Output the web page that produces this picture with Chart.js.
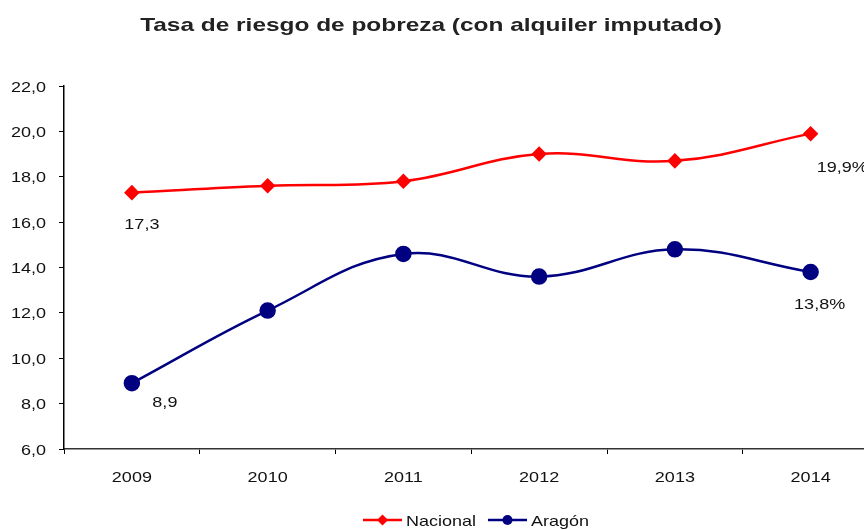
<!DOCTYPE html>
<html>
<head>
<meta charset="utf-8">
<script src="https://cdn.jsdelivr.net/npm/chart.js@4.4.1/dist/chart.umd.min.js"></script>
<style>
  html, body { margin: 0; padding: 0; background: #fff; overflow: hidden; }
  #wrap { width: 888px; height: 530px; }
</style>
</head>
<body>
<div id="wrap"><canvas id="chart" width="888" height="530"></canvas></div>
<script>
// data
const years = ['2009', '2010', '2011', '2012', '2013', '2014'];
const nacional = [17.3, 17.6, 17.8, 19.0, 18.7, 19.9];
const aragon = [8.9, 12.1, 14.6, 13.6, 14.8, 13.8];
const yTicks = [6, 8, 10, 12, 14, 16, 18, 20, 22];

const chartTitle = 'Tasa de riesgo de pobreza (con alquiler imputado)';
const FONT = '"Liberation Sans", Arial, sans-serif';
const RED = '#ff0000';
const NAVY = '#000080';
const TEXT = '#111';
const STRETCH = 1.2; // the reference text is drawn a bit wide

const fmt = v => v.toFixed(1).replace('.', ',');

// text drawn wider than normal, like the original picture
function wideText(ctx, text, x, y, align, sx) {
  ctx.save();
  ctx.translate(x, y);
  ctx.scale(sx, 1);
  ctx.textAlign = align;
  ctx.textBaseline = 'alphabetic';
  ctx.fillText(text, 0, 0);
  ctx.restore();
}

// title, axis labels, end-point labels and legend drawn on the canvas
const decorations = {
  id: 'decorations',
  afterDatasetsDraw(chart) {
    const ctx = chart.ctx;
    const xs = chart.scales.x;
    const ys = chart.scales.y;
    ctx.save();

    // title
    ctx.fillStyle = '#222';
    ctx.font = 'bold 18.5px ' + FONT;
    wideText(ctx, chartTitle, 431, 31, 'center', 1.32);

    ctx.font = '15px ' + FONT;
    ctx.fillStyle = TEXT;

    // y tick labels
    yTicks.forEach(v => {
      wideText(ctx, fmt(v), 46, ys.getPixelForValue(v) + 5.5, 'right', STRETCH);
    });

    // x tick labels
    years.forEach((y, i) => {
      wideText(ctx, y, xs.getPixelForValue(i), 482, 'center', STRETCH);
    });

    // first / last value labels
    const n = years.length - 1;
    const nac = chart.getDatasetMeta(0).data;
    const ara = chart.getDatasetMeta(1).data;
    wideText(ctx, fmt(nacional[0]), nac[0].x + 10, nac[0].y + 36, 'center', STRETCH);
    wideText(ctx, fmt(nacional[n]) + '%', nac[n].x + 6, nac[n].y + 38, 'left', STRETCH);
    wideText(ctx, fmt(aragon[0]), ara[0].x + 33, ara[0].y + 24, 'center', STRETCH);
    wideText(ctx, fmt(aragon[n]) + '%', ara[n].x + 9, ara[n].y + 37, 'center', STRETCH);

    // legend
    const items = [
      { label: 'Nacional', color: RED, style: 'diamond', x: 363 },
      { label: 'Aragón', color: NAVY, style: 'circle', x: 488 }
    ];
    const ly = 520;
    items.forEach(it => {
      ctx.strokeStyle = it.color;
      ctx.fillStyle = it.color;
      ctx.lineWidth = 2.5;
      ctx.beginPath();
      ctx.moveTo(it.x, ly);
      ctx.lineTo(it.x + 39, ly);
      ctx.stroke();
      const cx = it.x + 19.5;
      ctx.beginPath();
      if (it.style === 'diamond') {
        ctx.moveTo(cx, ly - 5.5);
        ctx.lineTo(cx + 5.5, ly);
        ctx.lineTo(cx, ly + 5.5);
        ctx.lineTo(cx - 5.5, ly);
        ctx.closePath();
      } else {
        ctx.arc(cx, ly, 5, 0, Math.PI * 2);
      }
      ctx.fill();
      ctx.fillStyle = TEXT;
      wideText(ctx, it.label, it.x + 43, 526, 'left', STRETCH);
    });

    ctx.restore();
  }
};

new Chart(document.getElementById('chart'), {
  type: 'line',
  data: {
    labels: years,
    datasets: [
      {
        label: 'Nacional',
        data: nacional,
        borderColor: RED,
        backgroundColor: RED,
        borderWidth: 2.5,
        pointStyle: 'rectRot',
        pointRadius: 6,
        pointHoverRadius: 6,
        tension: 0.4
      },
      {
        label: 'Aragón',
        data: aragon,
        borderColor: NAVY,
        backgroundColor: NAVY,
        borderWidth: 2.5,
        pointStyle: 'circle',
        pointRadius: 7,
        pointHoverRadius: 7,
        tension: 0.4
      }
    ]
  },
  options: {
    responsive: false,
    animation: false,
    layout: { padding: { top: 86, right: 5, left: 0, bottom: 0 } },
    plugins: {
      legend: { display: false },
      title: { display: false },
      tooltip: { enabled: false }
    },
    scales: {
      x: {
        offset: true,
        grid: { offset: true, drawOnChartArea: false, tickLength: 5, color: '#000' },
        border: { color: '#333', width: 1.5 },
        ticks: { display: false },
        afterFit(scale) { scale.height = 81; }
      },
      y: {
        min: 6,
        max: 22,
        afterBuildTicks(scale) { scale.ticks = yTicks.map(v => ({ value: v })); },
        grid: { drawOnChartArea: false, tickLength: 5, color: '#000' },
        border: { color: '#000', width: 1.5 },
        ticks: { display: false },
        afterFit(scale) { scale.width = 64; }
      }
    }
  },
  plugins: [decorations]
});
</script>
</body>
</html>
